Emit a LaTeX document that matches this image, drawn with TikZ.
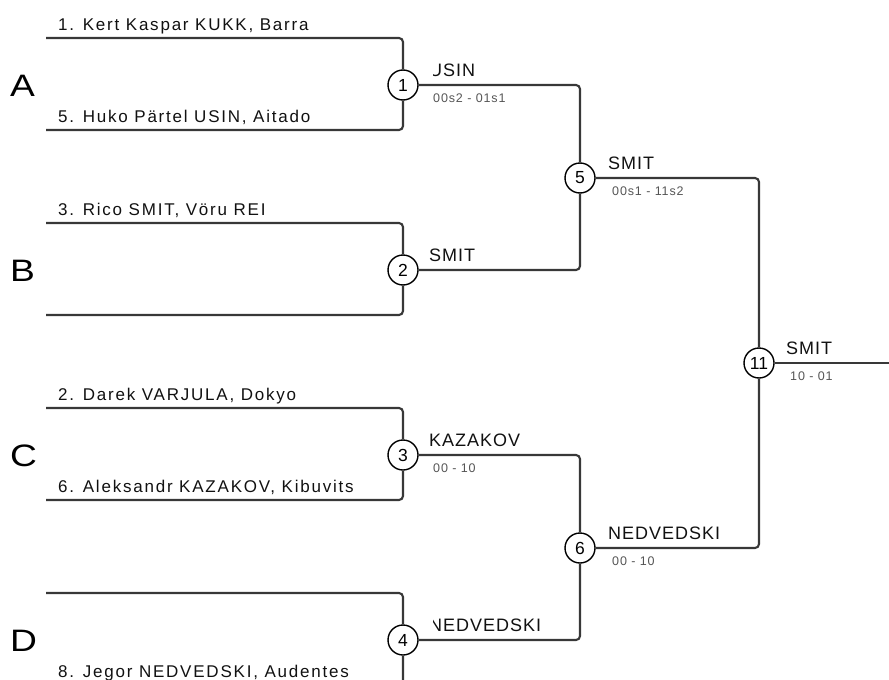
\documentclass[tikz,border=0pt]{standalone}
\usepackage{fontspec}
\setmainfont{Liberation Sans}
\newfontfamily\namefont[LetterSpace=10.5]{Liberation Sans}
\newfontfamily\lblfont[LetterSpace=5.5]{Liberation Sans}
\newfontfamily\scorefont[LetterSpace=7]{Liberation Sans}
\definecolor{linecol}{HTML}{383838}
\definecolor{namecol}{HTML}{111111}
\definecolor{scorecol}{HTML}{555555}
\begin{document}
\begin{tikzpicture}[x=1pt,y=-1pt,
  ln/.style={draw=linecol, line width=2.1pt, rounded corners=4pt},
  rnd/.style={circle, draw=black, fill=white, line width=1.4pt, minimum size=30pt, inner sep=0pt, font=\fontsize{17.5}{17.5}\selectfont},
  plname/.style={anchor=base west, inner sep=0pt, font=\namefont\fontsize{17}{20}\selectfont, text=namecol},
  winner/.style={anchor=base west, inner sep=0pt, font=\lblfont\fontsize{18}{20}\selectfont, text=namecol},
  score/.style={anchor=base west, inner sep=0pt, font=\scorefont\fontsize{12.5}{14}\selectfont, text=scorecol},
  grp/.style={anchor=west, inner sep=0pt, font=\fontsize{31}{34}\selectfont}]
\clip (0,0) rectangle (889,680);
% round nodes
\node[rnd] (c1) at (403,85) {1};
\node[rnd] (c2) at (403,270) {2};
\node[rnd] (c3) at (403,455) {3};
\node[rnd] (c4) at (403,640) {4};
\node[rnd] (c5) at (580,178) {5};
\node[rnd] (c6) at (580,548) {6};
\node[rnd] (c11) at (759,363) {11};
% line starts
\coordinate (a1) at (46,38);  \coordinate (a2) at (46,130);
\coordinate (b1) at (46,223); \coordinate (b2) at (46,315);
\coordinate (d1) at (46,408); \coordinate (d2) at (46,500);
\coordinate (e1) at (46,593); \coordinate (e2) at (46,685);
\coordinate (fin) at (889,363);
% connectors
\draw[ln] (a1) -| (c1); \draw[ln] (a2) -| (c1);
\draw[ln] (b1) -| (c2); \draw[ln] (b2) -| (c2);
\draw[ln] (d1) -| (c3); \draw[ln] (d2) -| (c3);
\draw[ln] (e1) -| (c4); \draw[ln] (e2) -| (c4);
\draw[ln] (c1) -| (c5); \draw[ln] (c2) -| (c5);
\draw[ln] (c3) -| (c6); \draw[ln] (c4) -| (c6);
\draw[ln] (c5) -| (c11); \draw[ln] (c6) -| (c11);
\draw[ln] (c11) -- (fin);
% group letters
\node[grp] (gA) at (10,86) {\scalebox{1.2}[1]{A}};
\node[grp] (gB) at (10,271) {\scalebox{1.2}[1]{B}};
\node[grp] (gC) at (10,456) {\scalebox{1.2}[1]{C}};
\node[grp] (gD) at (10,641) {\scalebox{1.2}[1]{D}};
% names
\node[plname] (n1) at (58,30) {1. Kert Kaspar KUKK, Barra};
\node[plname] (n5) at (58,122) {5. Huko Pärtel USIN, Aitado};
\node[plname] (n3) at (58,215) {3. Rico SMIT, Vöru REI};
\node[plname] (n2) at (58,400) {2. Darek VARJULA, Dokyo};
\node[plname] (n6) at (58,492) {6. Aleksandr KAZAKOV, Kibuvits};
\node[plname] (n8) at (58,677) {8. Jegor NEDVEDSKI, Audentes};
% winners
\begin{scope}
  \clip (433.5,55) rectangle (540,84);
  \node[winner] (l1) at (429,76.5) {USIN};
\end{scope}
\node[winner] (l2) at (429,261.5) {SMIT};
\node[winner] (l3) at (429,446.5) {KAZAKOV};
\begin{scope}
  \clip (433.5,610) rectangle (570,639);
  \node[winner] (l4) at (429,631.5) {NEDVEDSKI};
\end{scope}
\node[winner] (l5) at (608,169.5) {SMIT};
\node[winner] (l6) at (608,539.5) {NEDVEDSKI};
\node[winner] (l11) at (786,354.5) {SMIT};
% scores
\node[score] (s1) at (433,102) {00s2 - 01s1};
\node[score] (s3) at (433,472) {00 - 10};
\node[score] (s5) at (612,195) {00s1 - 11s2};
\node[score] (s6) at (612,565) {00 - 10};
\node[score] (s11) at (790,380) {10 - 01};
\end{tikzpicture}
\end{document}
